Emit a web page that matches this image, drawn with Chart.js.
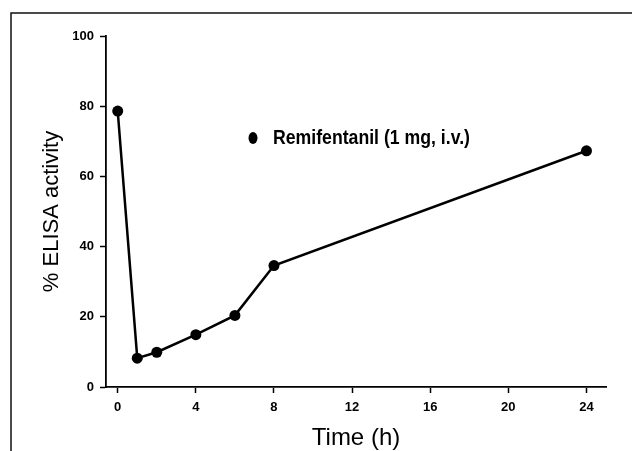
<!DOCTYPE html>
<html>
<head>
<meta charset="utf-8">
<script src="https://cdn.jsdelivr.net/npm/chart.js@4/dist/chart.umd.min.js"></script>
<style>
  html, body { margin: 0; padding: 0; background: #fff; }
  #wrap { width: 632px; height: 451px; }
</style>
</head>
<body>
<div id="wrap"><canvas id="grafica"></canvas></div>
<script>
// Datos
const horas = [0, 1, 2, 4, 6, 8, 24];
const actividad = [78.6, 8.2, 9.9, 14.9, 20.4, 34.6, 67.3];
const ticksX = [0, 4, 8, 12, 16, 20, 24];
const ticksY = [0, 20, 40, 60, 80, 100];
const etiquetaSerie = 'Remifentanil (1 mg, i.v.)';

const fuenteTicks = { family: '"Liberation Sans", Arial, sans-serif', size: 13, weight: 'bold' };

// Marco escaneado (línea superior e izquierda) y leyenda dentro del área
const marcoYLeyenda = {
    id: 'marcoYLeyenda',
    afterDraw(chart) {
        const ctx = chart.ctx;
        ctx.save();
        ctx.strokeStyle = '#111';
        ctx.lineWidth = 1.5;
        ctx.beginPath();
        ctx.moveTo(11, 451);
        ctx.lineTo(11, 13);
        ctx.lineTo(632, 13);
        ctx.stroke();

        // leyenda
        const ds = chart.data.datasets[0];
        ctx.fillStyle = '#000';
        ctx.beginPath();
        ctx.ellipse(253, 138, 4.5, 6, 0, 0, Math.PI * 2);
        ctx.fill();
        ctx.font = 'bold 20px "Liberation Sans Narrow", "Liberation Sans", Arial, sans-serif';
        ctx.textBaseline = 'middle';
        const w = ctx.measureText(ds.label).width;
        ctx.translate(273, 138);
        if (w > 200) ctx.scale(197 / w, 1);
        ctx.fillText(ds.label, 0, 0);
        ctx.restore();
    }
};

const ctx = document.getElementById('grafica').getContext('2d');
new Chart(ctx, {
    type: 'line',
    data: {
        datasets: [{
            label: etiquetaSerie,
            data: horas.map((h, i) => ({ x: h, y: actividad[i] })),
            borderColor: '#000',
            backgroundColor: '#000',
            borderWidth: 2.5,
            pointRadius: 5.5,
            pointHoverRadius: 5.5,
            pointBackgroundColor: '#000',
            pointBorderWidth: 0,
            tension: 0
        }]
    },
    options: {
        responsive: true,
        maintainAspectRatio: false,
        animation: false,
        layout: { padding: { left: 0, top: 36, right: 26, bottom: 0 } },
        plugins: {
            legend: { display: false },
            tooltip: { enabled: false }
        },
        scales: {
            x: {
                type: 'linear',
                min: -0.6,
                max: 25,
                afterBuildTicks: (scale) => { scale.ticks = ticksX.map(v => ({ value: v })); },
                afterFit: (scale) => { scale.height = 64; },
                grid: { drawOnChartArea: false, drawTicks: true, tickLength: 6, tickWidth: 1.5, tickColor: '#000' },
                border: { display: true, color: '#000', width: 1.8 },
                ticks: { color: '#000', font: fuenteTicks, padding: 7, maxRotation: 0 },
                title: {
                    display: true,
                    text: 'Time (h)',
                    color: '#000',
                    font: { family: '"Liberation Sans", Arial, sans-serif', size: 24, lineHeight: 1 },
                    padding: { top: 0, bottom: 1 }
                }
            },
            y: {
                min: 0,
                max: 100,
                afterBuildTicks: (scale) => { scale.ticks = ticksY.map(v => ({ value: v })); },
                afterFit: (scale) => { scale.width = 106; },
                grid: { drawOnChartArea: false, drawTicks: true, tickLength: 6, tickWidth: 1.5, tickColor: '#000' },
                border: { display: true, color: '#000', width: 1.8 },
                ticks: { color: '#000', font: fuenteTicks, padding: 6 },
                title: {
                    display: true,
                    text: '% ELISA activity',
                    color: '#000',
                    font: { family: '"Liberation Sans", Arial, sans-serif', size: 22, lineHeight: 1 },
                    padding: { top: 41, bottom: 0 }
                }
            }
        }
    },
    plugins: [marcoYLeyenda]
});
</script>
</body>
</html>
